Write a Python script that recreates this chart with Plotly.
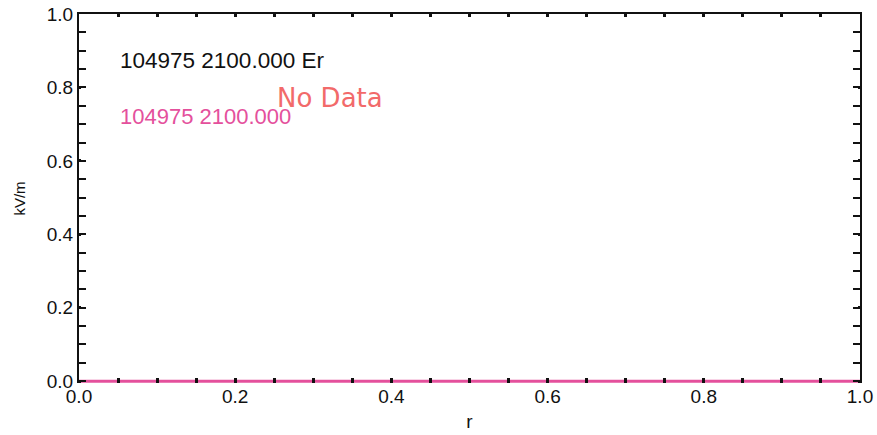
import plotly.graph_objects as go

# Radial electric field profile (shot 104975, t = 2100.000)
r_vals = [0.0, 1.0]
er_vals = [0.0, 0.0]

x_major = [0.0, 0.2, 0.4, 0.6, 0.8, 1.0]
x_labels = ["0.0", "0.2", "0.4", "0.6", "0.8", "1.0"]
y_major = [0.0, 0.2, 0.4, 0.6, 0.8, 1.0]
y_labels = ["0.0", "0.2", "0.4", "0.6", "0.8", "1.0"]

shot_label = "104975 2100.000 Er"
trace_label = "104975 2100.000"
missing_label = "No Data"

BLACK = "#111111"
MAGENTA = "#e4509c"
SALMON = "#f26a6a"
FONT = "Liberation Sans, Arial, sans-serif"

fig = go.Figure()
fig.add_trace(go.Scatter(
    x=r_vals, y=er_vals, mode="lines",
    line=dict(color=MAGENTA, width=3),
    showlegend=False, hoverinfo="skip",
))

tick_font = dict(family=FONT, size=19, color=BLACK)

# bottom axis: labels and short dot-like ticks, the profile line forms its edge
fig.update_xaxes(
    range=[0, 1], tickvals=x_major, ticktext=x_labels,
    showgrid=False, zeroline=False, showline=False,
    ticks="inside", ticklen=5, tickwidth=3, tickcolor=BLACK,
    minor=dict(dtick=0.05, ticks="inside", ticklen=5, tickwidth=3, tickcolor=BLACK),
    tickfont=tick_font,
    title=dict(text="r", font=dict(family=FONT, size=19, color=BLACK), standoff=8),
)
# top frame edge with short ticks
fig.update_layout(xaxis2=dict(
    overlaying="x", matches="x", side="top", range=[0, 1],
    showgrid=False, zeroline=False, showticklabels=False,
    showline=True, linecolor=BLACK, linewidth=2,
    tickvals=x_major, ticks="inside", ticklen=3, tickwidth=3, tickcolor=BLACK,
    minor=dict(dtick=0.05, ticks="inside", ticklen=3, tickwidth=3, tickcolor=BLACK),
))
fig.add_trace(go.Scatter(x=[], y=[], xaxis="x2", yaxis="y", showlegend=False))

fig.update_yaxes(
    range=[-0.005, 1], tickvals=y_major, ticktext=y_labels,
    showgrid=False, zeroline=False,
    showline=True, linecolor=BLACK, linewidth=2, mirror="ticks",
    ticks="inside", ticklen=2, tickwidth=3, tickcolor=BLACK,
    minor=dict(dtick=0.05, ticks="inside", ticklen=7, tickwidth=2, tickcolor=BLACK),
    tickfont=tick_font,
    title=dict(text="kV/m", font=dict(family=FONT, size=15, color=BLACK), standoff=18),
)

fig.add_annotation(x=0.05, y=0.873, xref="x", yref="y", text=shot_label,
                   showarrow=False, xanchor="left", yanchor="middle",
                   font=dict(family=FONT, size=22.5, color=BLACK))
fig.add_annotation(x=0.05, y=0.721, xref="x", yref="y", text=trace_label,
                   showarrow=False, xanchor="left", yanchor="middle",
                   font=dict(family=FONT, size=22, color=MAGENTA))
fig.add_annotation(x=0.321, y=0.772, xref="x", yref="y", text=missing_label,
                   showarrow=False, xanchor="center", yanchor="middle",
                   font=dict(family="DejaVu Sans, sans-serif", size=26, color=SALMON))

fig.update_layout(
    width=877, height=435,
    margin=dict(l=79, r=17, t=14, b=52, autoexpand=False),
    paper_bgcolor="white", plot_bgcolor="white",
)

fig.write_html("out.html")
